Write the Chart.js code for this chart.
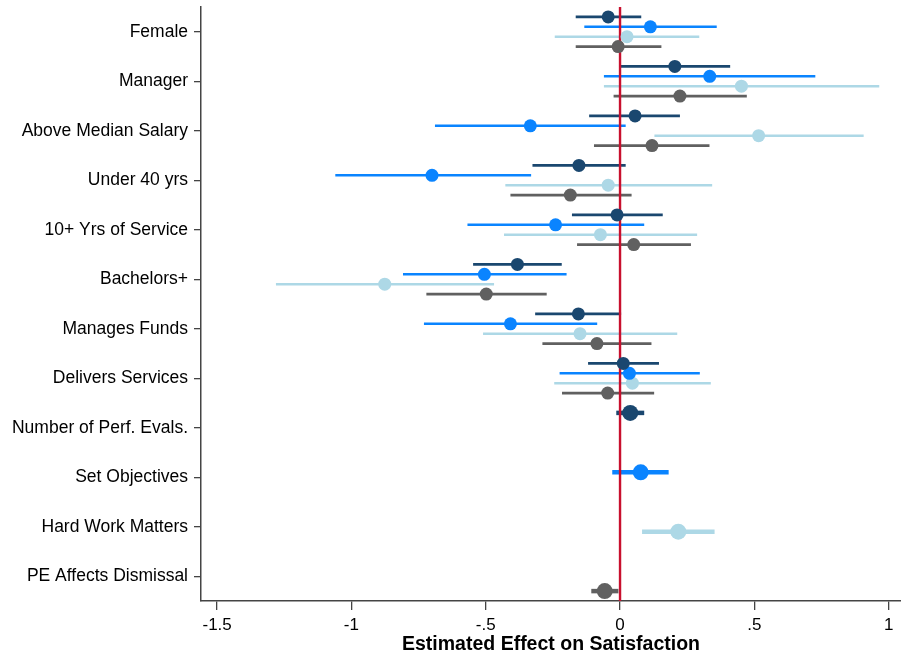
<!DOCTYPE html>
<html>
<head>
<meta charset="utf-8">
<script src="https://cdn.jsdelivr.net/npm/chart.js@4"></script>
<style>
  html, body { margin: 0; padding: 0; background: #fff; overflow: hidden; }
  canvas { display: block; }
</style>
</head>
<body>
<canvas id="coefChart" width="901" height="656"></canvas>
<script>
// categories on the y axis, top to bottom
var categories = ['Female', 'Manager', 'Above Median Salary', 'Under 40 yrs', '10+ Yrs of Service',
  'Bachelors+', 'Manages Funds', 'Delivers Services', 'Number of Perf. Evals.', 'Set Objectives',
  'Hard Work Matters', 'PE Affects Dismissal'];
var xTicks = [-1.5, -1, -0.5, 0, 0.5, 1];

// series 1 (dark navy)
var navyEst = [-0.044, 0.204, 0.056, -0.153, -0.011, -0.382, -0.155, 0.012, 0.038, null, null, null];
var navyLo  = [-0.165, 0.001, -0.115, -0.326, -0.179, -0.547, -0.316, -0.119, -0.014, null, null, null];
var navyHi  = [0.079, 0.410, 0.223, 0.021, 0.159, -0.217, 0.004, 0.145, 0.090, null, null, null];
// series 2 (bright blue)
var blueEst = [0.113, 0.334, -0.334, -0.700, -0.240, -0.505, -0.408, 0.035, null, 0.077, null, null];
var blueLo  = [-0.133, -0.060, -0.689, -1.060, -0.568, -0.808, -0.730, -0.225, null, -0.029, null, null];
var blueHi  = [0.360, 0.727, 0.021, -0.331, 0.090, -0.199, -0.085, 0.297, null, 0.181, null, null];
// series 3 (light blue)
var lightEst = [0.026, 0.452, 0.516, -0.044, -0.073, -0.876, -0.149, 0.046, null, null, 0.217, null];
var lightLo  = [-0.243, -0.060, 0.128, -0.427, -0.432, -1.281, -0.510, -0.245, null, null, 0.082, null];
var lightHi  = [0.295, 0.965, 0.907, 0.343, 0.287, -0.469, 0.213, 0.338, null, null, 0.352, null];
// series 4 (gray)
var grayEst = [-0.007, 0.223, 0.119, -0.185, 0.051, -0.498, -0.086, -0.046, null, null, null, -0.057];
var grayLo  = [-0.165, -0.024, -0.097, -0.408, -0.160, -0.721, -0.289, -0.216, null, null, null, -0.107];
var grayHi  = [0.154, 0.472, 0.333, 0.043, 0.264, -0.273, 0.117, 0.127, null, null, null, -0.006];

var seriesDefs = [
  { est: navyEst, lo: navyLo, hi: navyHi, color: '#1a476f', off: -0.3 },
  { est: blueEst, lo: blueLo, hi: blueHi, color: '#0a84ff', off: -0.1 },
  { est: lightEst, lo: lightLo, hi: lightHi, color: '#add8e6', off: 0.1 },
  { est: grayEst, lo: grayLo, hi: grayHi, color: '#606060', off: 0.3 }
];

function buildPoints(s) {
  var pts = [];
  for (var i = 0; i < categories.length; i++) {
    if (s.est[i] === null) continue;
    pts.push({ x: s.est[i], y: i + s.off, lo: s.lo[i], hi: s.hi[i], row: i });
  }
  return pts;
}

var datasets = seriesDefs.map(function (s) {
  return {
    data: buildPoints(s),
    backgroundColor: s.color,
    borderColor: s.color,
    borderWidth: 0,
    pointRadius: function (ctx) { return ctx.raw && ctx.raw.row >= 8 ? 8 : 6.5; },
    pointHoverRadius: 6
  };
});

// confidence intervals + zero line, drawn through the scales
var ciPlugin = {
  id: 'ciLines',
  beforeDatasetsDraw: function (chart) {
    var ctx = chart.ctx, xs = chart.scales.x, ys = chart.scales.y;
    ctx.save();
    chart.data.datasets.forEach(function (ds) {
      ds.data.forEach(function (p) {
        var y = ys.getPixelForValue(p.y);
        ctx.beginPath();
        ctx.strokeStyle = ds.borderColor;
        ctx.lineWidth = p.row >= 8 ? 4.5 : 2.6;
        ctx.moveTo(xs.getPixelForValue(p.lo), y);
        ctx.lineTo(xs.getPixelForValue(p.hi), y);
        ctx.stroke();
      });
    });
    var x0 = xs.getPixelForValue(0);
    ctx.beginPath();
    ctx.strokeStyle = '#c8102e';
    ctx.lineWidth = 2.4;
    ctx.moveTo(x0, chart.chartArea.top);
    ctx.lineTo(x0, chart.chartArea.bottom);
    ctx.stroke();
    ctx.restore();
  }
};

function fmtTick(v) {
  if (v === 0) return '0';
  return (v < 0 ? '-' : '') + String(Math.abs(v)).replace(/^0/, '');
}

new Chart(document.getElementById('coefChart'), {
  type: 'scatter',
  data: { datasets: datasets },
  plugins: [ciPlugin],
  options: {
    responsive: false,
    animation: false,
    layout: { autoPadding: false, padding: { top: 7, right: 0, left: 0, bottom: 0 } },
    plugins: { legend: { display: false }, tooltip: { enabled: false } },
    scales: {
      x: {
        type: 'linear',
        min: -1.56,
        max: 1.046,
        afterBuildTicks: function (scale) { scale.ticks = xTicks.map(function (v) { return { value: v }; }); },
        afterFit: function (scale) {
          scale.height = 55;
          scale.paddingLeft = 0;
          scale.paddingRight = 0;
        },
        border: { display: true, color: '#444', width: 1.5 },
        grid: { drawOnChartArea: false, drawTicks: true, tickLength: 9, color: '#444', lineWidth: 1.3 },
        ticks: {
          color: '#000', padding: 5, maxRotation: 0,
          font: { family: 'Liberation Sans, Arial, sans-serif', size: 17 },
          callback: function (v) { return fmtTick(v); }
        },
        title: {
          display: true, text: 'Estimated Effect on Satisfaction', color: '#000', padding: { top: 0, bottom: 0 },
          font: { family: 'Liberation Sans, Arial, sans-serif', size: 19.5, weight: 'bold' }
        }
      },
      y: {
        type: 'linear',
        reverse: true,
        min: -0.5,
        max: 11.5,
        afterBuildTicks: function (scale) { scale.ticks = categories.map(function (c, i) { return { value: i }; }); },
        afterFit: function (scale) {
          scale.width = 201;
          scale.paddingTop = 0;
          scale.paddingBottom = 0;
        },
        border: { display: true, color: '#444', width: 1.5 },
        grid: { drawOnChartArea: false, drawTicks: true, tickLength: 7, color: '#444', lineWidth: 1.3 },
        ticks: {
          color: '#000', padding: 6,
          font: { family: 'Liberation Sans, Arial, sans-serif', size: 17.5 },
          callback: function (v) { return categories[v]; }
        }
      }
    }
  }
});
</script>
</body>
</html>
